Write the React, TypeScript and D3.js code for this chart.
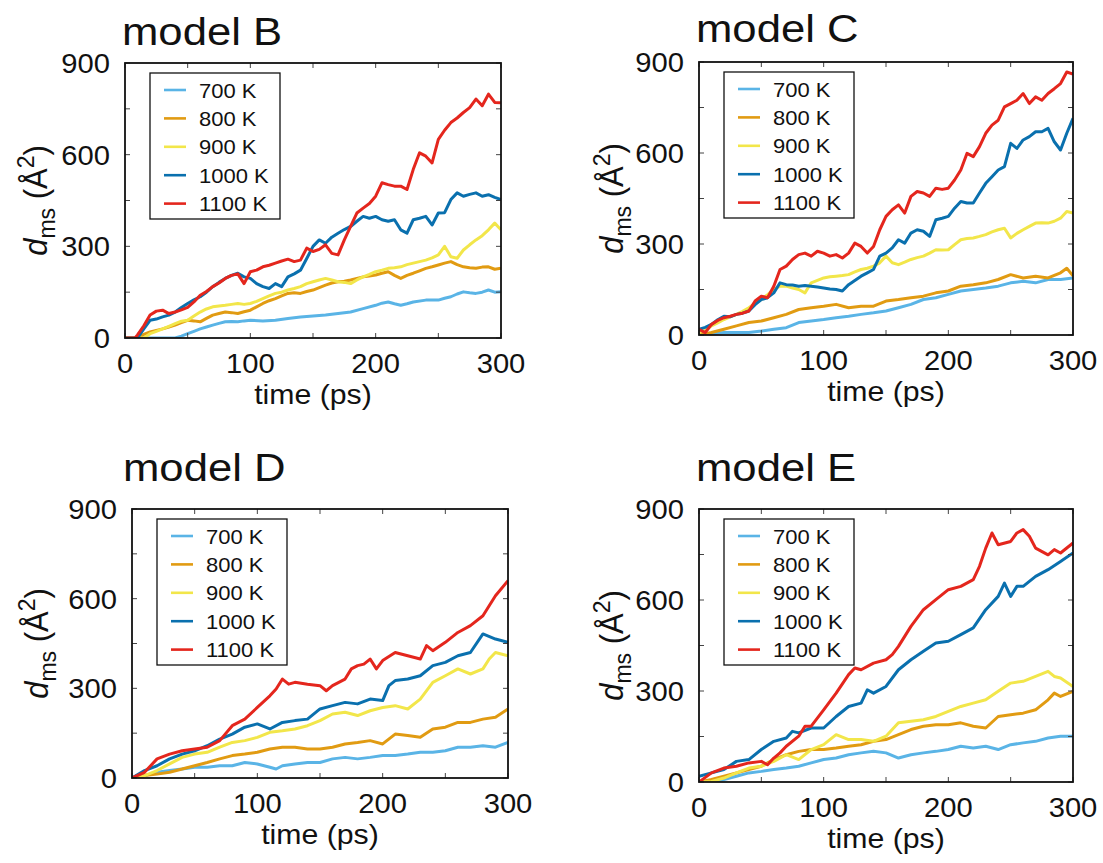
import React from 'react';
import * as d3 from 'd3';

type Pt = [number, number];

const SERIES_NAMES = ['700 K', '800 K', '900 K', '1000 K', '1100 K'];
const SERIES_COLORS = ['#5ab4e6', '#e19b12', '#f2e64a', '#0a70ae', '#e4261d'];
const X_TICKS = [0, 100, 200, 300];
const Y_TICKS = [0, 300, 600, 900];
const X_MINOR = [50, 150, 250];
const Y_MINOR = [150, 450, 750];
const TITLES = ['model B', 'model C', 'model D', 'model E'];

// ---------- model B ----------
const B_700: Pt[] = [[0,0],[40,0],[45,6],[50,14],[55,22],[60,30],[65,36],[70,42],[75,48],[80,53],[85,54],[90,53],[95,56],[100,58],[110,56],[120,58],[130,64],[140,69],[150,72],[160,75],[170,80],[180,85],[190,96],[200,107],[205,114],[210,118],[215,112],[220,107],[225,112],[230,118],[240,124],[250,124],[255,130],[260,135],[265,144],[270,151],[275,148],[280,146],[285,150],[290,157],[295,150],[300,151]];
const B_800: Pt[] = [[0,0],[10,0],[15,12],[20,20],[25,25],[30,30],[35,36],[40,42],[45,50],[50,58],[55,56],[60,53],[65,64],[70,75],[75,80],[80,85],[85,83],[90,80],[95,86],[100,91],[105,102],[110,113],[115,122],[120,129],[125,138],[130,146],[135,148],[140,146],[145,152],[150,157],[155,165],[160,173],[165,180],[170,184],[175,186],[180,190],[185,195],[190,200],[195,203],[200,206],[205,212],[210,217],[215,205],[220,195],[225,205],[230,212],[235,220],[240,228],[245,233],[250,239],[255,245],[260,250],[265,240],[270,233],[275,230],[280,228],[285,232],[290,233],[295,225],[300,228]];
const B_900: Pt[] = [[0,0],[15,0],[20,14],[25,22],[30,30],[35,38],[40,47],[45,55],[50,58],[55,72],[60,85],[65,95],[70,102],[75,105],[80,107],[85,110],[90,113],[95,110],[100,113],[105,120],[110,129],[115,138],[120,146],[125,150],[130,157],[135,162],[140,168],[145,178],[150,184],[155,190],[160,195],[165,190],[170,184],[175,182],[180,178],[185,190],[190,200],[195,208],[200,217],[205,222],[210,228],[215,230],[220,233],[225,240],[230,245],[235,250],[240,255],[245,262],[250,272],[255,300],[260,266],[265,261],[270,288],[275,305],[280,321],[285,335],[290,354],[295,376],[300,354]];
const B_1000: Pt[] = [[0,0],[10,0],[15,30],[20,58],[25,62],[30,69],[35,75],[40,85],[45,100],[50,113],[55,125],[60,135],[65,150],[70,168],[75,182],[80,195],[85,205],[90,212],[95,200],[100,195],[105,178],[110,168],[115,162],[120,178],[125,168],[130,200],[135,210],[140,222],[145,260],[150,300],[155,321],[160,310],[165,330],[170,343],[175,355],[180,365],[185,382],[190,398],[195,392],[200,398],[205,387],[210,382],[215,387],[220,354],[225,343],[230,387],[235,392],[240,398],[245,370],[250,409],[255,410],[260,453],[265,475],[270,464],[275,470],[280,475],[285,464],[290,469],[295,460],[300,453]];
const B_1100: Pt[] = [[0,0],[8,0],[10,10],[15,40],[20,75],[25,88],[30,91],[35,80],[40,85],[45,92],[50,100],[55,118],[60,140],[65,152],[70,168],[75,180],[80,195],[85,205],[90,210],[95,178],[100,217],[105,222],[110,233],[115,238],[120,245],[125,252],[130,258],[135,250],[140,255],[145,294],[150,283],[155,290],[160,305],[165,277],[170,272],[175,321],[180,365],[185,409],[190,425],[195,440],[200,464],[205,508],[210,502],[215,497],[220,497],[225,486],[230,552],[235,606],[240,595],[245,573],[250,650],[255,680],[260,705],[265,720],[270,738],[275,754],[280,782],[285,760],[290,798],[295,771],[300,770]];

// ---------- model C ----------
const C_700: Pt[] = [[0,0],[20,8],[40,8],[50,13],[60,19],[70,24],[80,41],[90,46],[100,51],[110,57],[120,62],[130,68],[140,73],[150,79],[160,90],[170,101],[180,117],[190,123],[200,134],[210,145],[220,150],[230,155],[240,161],[250,172],[260,177],[270,172],[280,183],[290,183],[300,188]];
const C_800: Pt[] = [[0,0],[10,8],[20,19],[30,30],[40,41],[50,46],[60,57],[70,68],[80,84],[90,90],[100,95],[110,101],[120,90],[130,95],[140,95],[150,112],[160,117],[170,123],[180,128],[190,139],[200,145],[210,161],[220,166],[230,172],[240,183],[250,199],[260,188],[270,194],[280,188],[290,205],[295,220],[300,195]];
const C_900: Pt[] = [[0,8],[5,15],[10,30],[15,40],[20,51],[25,60],[30,68],[35,78],[40,90],[45,105],[50,117],[55,133],[60,150],[65,161],[70,161],[75,155],[80,150],[85,139],[90,172],[95,180],[100,188],[105,192],[110,194],[115,196],[120,199],[125,208],[130,216],[135,220],[140,227],[145,238],[150,260],[155,238],[160,232],[165,240],[170,249],[175,255],[180,260],[185,270],[190,281],[195,280],[200,281],[205,298],[210,314],[215,318],[220,320],[225,325],[230,331],[235,340],[240,347],[245,352],[250,320],[255,335],[260,347],[265,358],[270,369],[275,370],[280,369],[285,375],[290,385],[295,407],[300,402]];
const C_1000: Pt[] = [[0,19],[5,25],[10,35],[15,50],[20,62],[25,60],[30,68],[35,72],[40,79],[45,100],[50,117],[55,123],[60,139],[65,172],[70,166],[75,165],[80,161],[85,163],[90,161],[95,158],[100,155],[105,152],[110,150],[115,145],[120,166],[125,180],[130,194],[135,205],[140,216],[145,260],[150,270],[155,287],[160,314],[165,303],[170,336],[175,347],[180,342],[185,325],[190,380],[195,385],[200,391],[205,418],[210,440],[215,435],[220,435],[225,468],[230,500],[235,522],[240,544],[245,555],[250,632],[255,615],[260,643],[265,654],[270,670],[275,670],[280,681],[285,637],[290,610],[295,665],[300,714]];
const C_1100: Pt[] = [[0,19],[5,8],[10,35],[15,48],[20,57],[25,62],[30,68],[35,72],[40,79],[45,112],[50,128],[55,123],[60,161],[65,216],[70,227],[75,249],[80,265],[85,270],[90,260],[95,276],[100,270],[105,260],[110,265],[115,254],[120,270],[125,303],[130,292],[135,270],[140,292],[145,347],[150,391],[155,413],[160,429],[165,402],[170,457],[175,473],[180,468],[185,457],[190,484],[195,480],[200,484],[205,511],[210,544],[215,599],[220,588],[225,621],[230,665],[235,692],[240,708],[245,752],[250,763],[255,774],[260,796],[265,763],[270,785],[275,774],[280,796],[285,812],[290,829],[295,867],[300,860]];

// ---------- model D ----------
const D_700: Pt[] = [[0,0],[10,8],[20,19],[30,25],[40,30],[50,36],[60,36],[70,41],[80,41],[90,52],[100,47],[110,36],[115,30],[120,41],[130,47],[140,52],[150,52],[160,64],[170,69],[180,64],[190,69],[200,75],[210,75],[220,80],[230,86],[240,86],[250,91],[260,103],[270,103],[280,108],[290,103],[300,119]];
const D_800: Pt[] = [[0,0],[10,8],[20,13],[30,19],[40,30],[50,41],[60,52],[70,64],[80,75],[90,80],[100,86],[110,97],[120,103],[130,103],[140,97],[150,97],[160,103],[170,114],[180,119],[190,125],[200,114],[210,147],[220,142],[230,136],[240,164],[250,170],[260,186],[270,186],[280,197],[290,203],[300,231]];
const D_900: Pt[] = [[0,0],[10,8],[20,25],[30,47],[40,69],[50,80],[60,86],[70,103],[80,119],[90,125],[100,136],[110,153],[120,158],[130,164],[140,175],[150,192],[160,214],[170,220],[180,209],[190,225],[200,236],[210,242],[220,231],[230,264],[240,320],[250,342],[260,365],[270,348],[280,365],[285,398],[290,420],[300,409]];
const D_1000: Pt[] = [[0,0],[10,25],[20,41],[30,64],[40,80],[50,91],[60,108],[70,130],[80,147],[90,170],[100,181],[110,164],[120,186],[130,192],[140,197],[150,231],[160,242],[170,253],[180,248],[190,264],[200,259],[205,309],[210,326],[220,331],[230,342],[240,376],[250,387],[260,409],[270,420],[280,482],[290,465],[300,454]];
const D_1100: Pt[] = [[0,0],[10,19],[20,64],[30,80],[40,91],[50,97],[60,103],[70,125],[80,175],[90,197],[100,236],[110,275],[115,298],[120,331],[125,314],[130,320],[140,314],[150,309],[155,292],[160,309],[170,331],[175,365],[180,376],[185,381],[190,398],[195,365],[200,393],[210,420],[220,409],[230,398],[235,443],[240,426],[250,454],[260,487],[270,510],[280,543],[290,610],[300,660]];

// ---------- model E ----------
const E_700: Pt[] = [[0,0],[10,0],[20,8],[30,19],[40,30],[50,35],[60,41],[70,46],[80,52],[90,63],[100,74],[110,79],[120,90],[130,96],[140,101],[150,96],[160,79],[170,90],[180,96],[190,101],[200,107],[210,118],[220,112],[230,118],[240,107],[250,123],[260,129],[270,134],[280,145],[290,151],[300,151]];
const E_800: Pt[] = [[0,0],[10,8],[20,19],[30,30],[40,41],[50,52],[60,74],[70,90],[80,101],[90,107],[100,107],[110,112],[120,118],[130,123],[140,134],[150,140],[160,156],[170,173],[180,184],[190,189],[200,189],[210,195],[220,184],[230,178],[240,216],[250,222],[260,227],[270,238],[280,271],[285,293],[290,282],[300,299]];
const E_900: Pt[] = [[0,0],[10,2],[20,13],[30,30],[40,46],[50,52],[60,68],[70,90],[80,74],[90,107],[100,123],[110,156],[120,140],[130,140],[140,134],[150,151],[160,195],[170,200],[180,205],[190,216],[200,233],[210,249],[220,260],[230,271],[240,299],[250,326],[260,332],[270,348],[280,365],[285,348],[290,343],[300,315]];
const E_1000: Pt[] = [[0,19],[10,30],[20,41],[30,68],[40,74],[50,107],[60,134],[70,145],[75,167],[80,162],[90,178],[100,178],[110,216],[120,249],[130,260],[135,304],[140,293],[150,315],[160,370],[170,403],[180,431],[190,458],[200,464],[210,486],[220,508],[230,568],[240,612],[245,656],[250,612],[255,645],[260,645],[270,678],[280,700],[290,727],[300,755]];
const E_1100: Pt[] = [[0,0],[10,30],[20,46],[30,52],[40,63],[50,68],[55,57],[60,79],[65,96],[70,118],[80,151],[85,184],[90,184],[100,238],[110,293],[120,354],[125,376],[130,370],[140,392],[150,403],[155,420],[160,447],[170,513],[180,568],[190,601],[200,634],[210,645],[220,667],[225,711],[230,771],[235,821],[240,782],[250,793],[255,821],[260,832],[265,810],[270,771],[280,749],[285,766],[290,755],[300,788]];

const PANEL_DATA: Pt[][][] = [
  [B_700, B_800, B_900, B_1000, B_1100],
  [C_700, C_800, C_900, C_1000, C_1100],
  [D_700, D_800, D_900, D_1000, D_1100],
  [E_700, E_800, E_900, E_1000, E_1100],
];

const FONT = "'Liberation Sans', Arial, Helvetica, sans-serif";

interface Frame { left: number; right: number; top: number; bottom: number; titleX: number; titleY: number; ylabX: number; }

const FRAMES: Frame[] = [
  { left: 125, right: 501, top: 63, bottom: 338, titleX: 122, titleY: 45, ylabX: 47 },
  { left: 699, right: 1073, top: 62, bottom: 335, titleX: 696, titleY: 42, ylabX: 623 },
  { left: 132, right: 508, top: 509, bottom: 778, titleX: 123, titleY: 481, ylabX: 48 },
  { left: 699, right: 1073, top: 509, bottom: 782, titleX: 696, titleY: 481, ylabX: 623 },
];

const SX = 1.08;

function Panel({ idx }: { idx: number }) {
  const f = FRAMES[idx];
  const x = d3.scaleLinear().domain([0, 300]).range([f.left, f.right]);
  const y = d3.scaleLinear().domain([0, 900]).range([f.bottom, f.top]);
  const line = d3.line<Pt>().x((d) => x(d[0])).y((d) => y(d[1]));
  const data = PANEL_DATA[idx];
  const tickLen = 5;
  const legX = f.left + 25;
  const legY = f.top + 10;
  const legW = 130;
  const legH = 146;
  const clipId = `clip${idx}`;
  const cy = (f.top + f.bottom) / 2;
  return (
    <g>
      <defs>
        <clipPath id={clipId}>
          <rect x={f.left} y={f.top - 2} width={f.right - f.left} height={f.bottom - f.top + 2} />
        </clipPath>
      </defs>
      <text transform={`translate(${f.titleX},${f.titleY}) scale(1.12,1)`} fontSize={39} fontFamily={FONT} fill="#111">
        {TITLES[idx]}
      </text>
      <g clipPath={`url(#${clipId})`}>
        {data.map((s, i) => (
          <path key={i} d={line(s) || ''} fill="none" stroke={SERIES_COLORS[i]} strokeWidth={3} strokeLinejoin="round" />
        ))}
      </g>
      {X_TICKS.concat(X_MINOR).map((t) => (
        <g key={`xt${t}`} stroke="#444" strokeWidth={1}>
          <line x1={x(t)} x2={x(t)} y1={f.bottom} y2={f.bottom - tickLen} />
          <line x1={x(t)} x2={x(t)} y1={f.top} y2={f.top + tickLen} />
        </g>
      ))}
      {Y_TICKS.concat(Y_MINOR).map((t) => (
        <g key={`yt${t}`} stroke="#444" strokeWidth={1}>
          <line x1={f.left} x2={f.left + tickLen} y1={y(t)} y2={y(t)} />
          <line x1={f.right} x2={f.right - tickLen} y1={y(t)} y2={y(t)} />
        </g>
      ))}
      <rect x={f.left} y={f.top} width={f.right - f.left} height={f.bottom - f.top} fill="none" stroke="#111" strokeWidth={1.8} />
      {X_TICKS.map((t) => (
        <text key={`xl${t}`} transform={`translate(${x(t)},${f.bottom + 35}) scale(${SX},1)`} textAnchor="middle" fontSize={27} fontFamily={FONT} fill="#111">
          {t}
        </text>
      ))}
      {Y_TICKS.map((t) => (
        <text key={`yl${t}`} transform={`translate(${f.left - 15},${y(t) + 10}) scale(${SX},1)`} textAnchor="end" fontSize={27} fontFamily={FONT} fill="#111">
          {t}
        </text>
      ))}
      <text transform={`translate(${(f.left + f.right) / 2},${f.bottom + 66}) scale(${SX},1)`} textAnchor="middle" fontSize={28} fontFamily={FONT} fill="#111">
        time (ps)
      </text>
      <text transform={`translate(${f.ylabX},${cy}) rotate(-90) scale(1,1.08)`} textAnchor="middle" fontSize={31} fontFamily={FONT} fill="#111">
        <tspan fontStyle="italic">d</tspan>
        <tspan fontSize={23} dy={7}>ms</tspan>
        <tspan dy={-7}> (Å</tspan>
        <tspan fontSize={23} dy={-12}>2</tspan>
        <tspan dy={12}>)</tspan>
      </text>
      <rect x={legX} y={legY} width={legW} height={legH} fill="#fff" stroke="#111" strokeWidth={1.3} />
      {SERIES_NAMES.map((n, i) => {
        const ry = legY + 17 + i * 28.4;
        return (
          <g key={n}>
            <line x1={legX + 14} x2={legX + 36} y1={ry} y2={ry} stroke={SERIES_COLORS[i]} strokeWidth={2.6} />
            <text transform={`translate(${legX + 49},${ry + 7.5}) scale(1.1,1)`} fontSize={20} fontFamily={FONT} fill="#111">
              {n}
            </text>
          </g>
        );
      })}
    </g>
  );
}

export default function App() {
  return (
    <svg width={1103} height={863} viewBox="0 0 1103 863" style={{ position: 'absolute', left: 0, top: 0, background: '#fff' }}>
      <rect x={0} y={0} width={1103} height={863} fill="#fff" />
      {[0, 1, 2, 3].map((i) => (
        <Panel key={i} idx={i} />
      ))}
    </svg>
  );
}
